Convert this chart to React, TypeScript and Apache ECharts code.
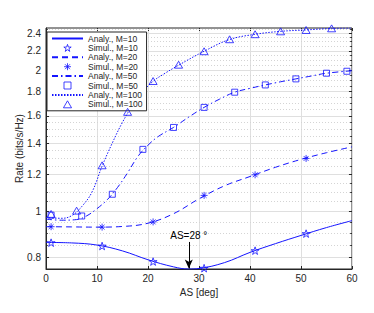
import React, { useEffect, useRef } from "react";
import * as echarts from "echarts";

// ---- Data ----
const anaX10 = [0, 5, 10, 15, 20, 25, 28, 30, 35, 40, 45, 50, 55, 60];
const anaY10 = [0.86, 0.858, 0.849, 0.825, 0.79, 0.763, 0.755, 0.757, 0.779, 0.819, 0.855, 0.89, 0.925, 0.957];
const simX10 = [1, 11, 21, 31, 41, 51];
const simY10 = [0.859, 0.845, 0.783, 0.758, 0.826, 0.898];

const anaX20 = [0, 5, 10, 15, 20, 25, 30, 35, 40, 45, 50, 55, 60];
const anaY20 = [0.929, 0.928, 0.927, 0.93, 0.945, 0.99, 1.065, 1.135, 1.188, 1.243, 1.292, 1.335, 1.374];
const simX20 = [1, 11, 21, 31, 41, 51];
const simY20 = [0.929, 0.927, 0.951, 1.083, 1.198, 1.298];

const anaX50 = [0, 3, 6, 8, 10, 12, 14, 16, 18, 20, 22, 25, 28, 31, 34, 37, 40, 43, 46, 49, 52, 55, 60];
const anaY50 = [0.964, 0.959, 0.962, 0.98, 1.015, 1.06, 1.125, 1.21, 1.31, 1.385, 1.445, 1.511, 1.59, 1.667, 1.735, 1.796, 1.83, 1.861, 1.89, 1.917, 1.944, 1.971, 1.995];
const simX50 = [1, 7, 13, 19, 25, 31, 37, 43, 49, 55, 59];
const simY50 = [0.983, 0.979, 1.089, 1.357, 1.511, 1.667, 1.796, 1.861, 1.917, 1.971, 1.99];

const anaX100 = [0, 3, 5, 7, 9, 11, 13, 15, 17, 19, 21, 23, 26, 31, 36, 41, 46, 51, 56, 60];
const anaY100 = [0.972, 0.968, 0.98, 1.025, 1.1, 1.25, 1.4, 1.55, 1.685, 1.8, 1.895, 1.96, 2.05, 2.195, 2.325, 2.385, 2.42, 2.437, 2.455, 2.46];
const simX100 = [1, 6, 11, 16, 21, 26, 31, 36, 41, 46, 51, 56];
const simY100 = [0.989, 1.005, 1.255, 1.631, 1.897, 2.055, 2.195, 2.328, 2.386, 2.42, 2.436, 2.456];

const yMajorTicks = [0.8, 1, 1.2, 1.4, 1.6, 1.8, 2, 2.2, 2.4];
const yMajorLabels = ["0.8", "1", "1.2", "1.4", "1.6", "1.8", "2", "2.2", "2.4"];
const yMinorTicks = [0.85, 0.9, 0.95, 1.05, 1.1, 1.15, 1.25, 1.3, 1.35, 1.45, 1.5, 1.55, 1.65, 1.7, 1.75, 1.85, 1.9, 1.95, 2.05, 2.1, 2.15, 2.25, 2.3, 2.35, 2.45];

const annotX = 28;
const annotText = "AS=28 °";

const BLUE = "#1414ff";
const DARK = "#262626";
const FONT = "Liberation Sans, Arial, Helvetica, sans-serif";

const STAR = "path://M0,-10L2.245,-3.09L9.511,-3.09L3.633,1.18L5.878,8.09L0,3.82L-5.878,8.09L-3.633,1.18L-9.511,-3.09L-2.245,-3.09Z";
const ASTER = "path://M0,-5L0,5M-5,0L5,0M-3.5,-3.5L3.5,3.5M-3.5,3.5L3.5,-3.5";
const SQUARE = "path://M-5,-5L5,-5L5,5L-5,5Z";
const TRI = "path://M0,-5L5.5,4.5L-5.5,4.5Z";

const zip = (xs: number[], ys: number[]) => xs.map((x, i) => [x, ys[i]]);

export default function App() {
  const ref = useRef<HTMLDivElement>(null);
  useEffect(() => {
    if (!ref.current) return;
    const chart = echarts.init(ref.current, undefined, { renderer: "svg" });

    const hollow = { color: "transparent", borderColor: BLUE, borderWidth: 1 };
    const anaLine = (name: string, xs: number[], ys: number[], type: any) => ({
      name,
      type: "line",
      data: zip(xs, ys),
      smooth: 0.4,
      symbol: "circle",
      showSymbol: false,
      z: 3,
      lineStyle: { color: BLUE, width: 1, type },
      itemStyle: { color: BLUE, opacity: 0 },
    });
    const simPts = (name: string, xs: number[], ys: number[], symbol: string, size: any) => ({
      name,
      type: "scatter",
      data: zip(xs, ys),
      symbol,
      symbolSize: size,
      symbolKeepAspect: true,
      z: 4,
      itemStyle: hollow,
    });

    const gridLines: any[] = [];
    yMajorTicks.forEach((v, i) => {
      gridLines.push({
        yAxis: v,
        lineStyle: { color: "#dfdfdf", width: 1, type: "solid" },
        label: { show: true, position: "start", formatter: yMajorLabels[i], color: DARK, fontSize: 10, fontFamily: FONT, distance: 5 },
      });
    });
    yMinorTicks.forEach((v) => {
      gridLines.push({
        yAxis: v,
        lineStyle: { color: "#d4d4d4", width: 1, type: [1, 2] },
        label: { show: false },
      });
    });
    const tickSegs: any[] = [];
    [...yMajorTicks, ...yMinorTicks].forEach((v) => {
      const len = yMajorTicks.includes(v) ? 0.6 : 0.35;
      tickSegs.push([{ coord: [0, v] }, { coord: [len, v] }]);
      tickSegs.push([{ coord: [60 - len, v] }, { coord: [60, v] }]);
    });

    const lineEntry = (name: string) => ({ name, itemStyle: { opacity: 0 } });
    const symEntry = (name: string, icon: string) => ({ name, icon, itemStyle: hollow });

    chart.setOption({
      animation: false,
      backgroundColor: "#ffffff",
      textStyle: { fontFamily: FONT },
      grid: { left: 46, right: 22, top: 28, bottom: 44, show: true, borderColor: DARK, borderWidth: 1, backgroundColor: "#fff" },
      legend: {
        orient: "vertical",
        left: 47,
        top: 32,
        backgroundColor: "#fff",
        borderColor: DARK,
        borderWidth: 1,
        borderRadius: 0,
        padding: [2, 4, 2, 4],
        itemGap: 0.4,
        itemWidth: 31,
        itemHeight: 7,
        itemTextGap: 2,
        symbolKeepAspect: true,
        selectedMode: false,
        textStyle: { fontSize: 8.5, color: DARK, fontFamily: FONT, lineHeight: 9 },
        data: [
          lineEntry("Analy., M=10"),
          symEntry("Simul., M=10", STAR),
          lineEntry("Analy., M=20"),
          symEntry("Simul., M=20", ASTER),
          lineEntry("Analy., M=50"),
          symEntry("Simul., M=50", SQUARE),
          lineEntry("Analy., M=100"),
          symEntry("Simul., M=100", TRI),
        ],
      },
      xAxis: [
        {
          type: "value",
          min: 0,
          max: 60,
          interval: 10,
          name: "AS [deg]",
          nameLocation: "middle",
          nameGap: 16,
          nameTextStyle: { fontSize: 10, color: DARK, fontFamily: FONT },
          axisLine: { lineStyle: { color: DARK } },
          axisTick: { inside: true, length: 3, lineStyle: { color: DARK } },
          axisLabel: { fontSize: 10, color: DARK, margin: 4, fontFamily: FONT },
          splitLine: { show: true, lineStyle: { color: "#dfdfdf", width: 1 } },
        },
        {
          type: "value",
          position: "top",
          min: 0,
          max: 60,
          interval: 10,
          axisLine: { show: false },
          axisTick: { inside: true, length: 3, lineStyle: { color: DARK } },
          axisLabel: { show: false },
          splitLine: { show: false },
        },
      ],
      yAxis: {
        type: "log",
        logBase: 10,
        min: 0.755,
        max: 2.46,
        name: "Rate (bits/s/Hz)",
        nameLocation: "middle",
        nameGap: 22,
        nameTextStyle: { fontSize: 10, color: DARK, fontFamily: FONT },
        axisLine: { show: true, lineStyle: { color: DARK } },
        axisTick: { show: false },
        axisLabel: { show: false },
        splitLine: { show: false },
        minorSplitLine: { show: false },
      },
      series: [
        {
          name: "grid-helper",
          type: "line",
          data: [],
          z: 1,
          silent: true,
          markLine: { silent: true, z: 1, symbol: ["none", "none"], animation: false, data: gridLines },
        },
        {
          name: "tick-helper",
          type: "line",
          data: [],
          z: 1,
          silent: true,
          markLine: {
            silent: true,
            z: 2,
            symbol: ["none", "none"],
            animation: false,
            lineStyle: { color: DARK, width: 1, type: "solid" },
            label: { show: false },
            data: tickSegs,
          },
        },
        anaLine("Analy., M=10", anaX10, anaY10, "solid"),
        simPts("Simul., M=10", simX10, simY10, STAR, 8),
        anaLine("Analy., M=20", anaX20, anaY20, [6, 4]),
        simPts("Simul., M=20", simX20, simY20, ASTER, 7),
        anaLine("Analy., M=50", anaX50, anaY50, [6, 3, 1.5, 3]),
        simPts("Simul., M=50", simX50, simY50, SQUARE, 6),
        anaLine("Analy., M=100", anaX100, anaY100, [1.5, 1.5]),
        simPts("Simul., M=100", simX100, simY100, TRI, 8),
        {
          name: "annot-helper",
          type: "line",
          data: [],
          z: 5,
          silent: true,
          markLine: {
            silent: true,
            z: 6,
            symbol: ["none", "arrow"],
            symbolSize: [6, 9],
            animation: false,
            lineStyle: { color: "#000", width: 1, type: "solid" },
            label: { show: true, position: "start", formatter: annotText, color: "#000", fontSize: 10, fontFamily: FONT, distance: 1 },
            data: [[{ coord: [annotX, 0.862] }, { coord: [annotX, 0.757] }]],
          },
        },
      ],
    });
    return () => chart.dispose();
  }, []);
  return (
    <div
      ref={ref}
      style={{ position: "fixed", left: 0, top: 0, width: 374, height: 313, background: "#fff" }}
    />
  );
}
